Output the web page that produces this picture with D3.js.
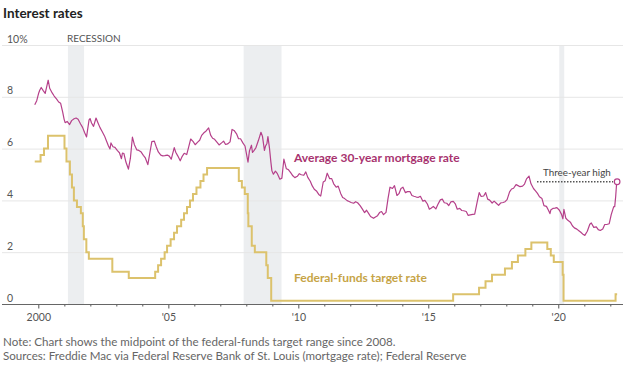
<!DOCTYPE html>
<html><head><meta charset="utf-8">
<script src="https://cdn.jsdelivr.net/npm/d3@7"></script>
<style>
body{margin:0;background:#fff;}
svg{display:block;font-family:Lato,"Noto Sans",sans-serif;}
</style></head><body>
<svg id="chart" width="635" height="366"></svg>
<script>
// ---------- DATA ----------
const yTicks = [0, 2, 4, 6, 8, 10];
const yTickLabels = ["0", "2", "4", "6", "8", "10%"];
const xMajorYears = [2000, 2005, 2010, 2015, 2020];
const xMajorLabels = ["2000", "'05", "'10", "'15", "'20"];

const recessions = [
  ["2001-02-20", "2001-10-05"],
  ["2007-11-25", "2009-05-10"],
  ["2020-01-15", "2020-03-25"]
];

const mortgage = [
["1999-11-12",7.69],["1999-12-10",7.85],["2000-01-07",8.15],["2000-01-21",8.25],["2000-02-11",8.36],
["2000-03-10",8.24],["2000-04-07",8.13],["2000-05-19",8.64],["2000-06-09",8.33],["2000-07-14",8.15],
["2000-08-11",8.03],["2000-09-15",7.91],["2000-10-13",7.80],["2000-11-10",7.75],["2000-12-08",7.42],
["2000-12-29",7.13],["2001-01-12",7.00],["2001-02-09",7.05],["2001-03-16",6.93],["2001-04-13",7.08],
["2001-05-18",7.15],["2001-06-15",7.18],["2001-07-13",7.13],["2001-08-17",6.95],["2001-09-14",6.82],
["2001-10-12",6.62],["2001-11-09",6.45],["2001-12-14",7.11],["2001-12-28",7.16],["2002-01-18",6.99],
["2002-02-15",6.86],["2002-03-22",7.18],["2002-04-19",6.99],["2002-05-17",6.81],["2002-06-14",6.67],
["2002-07-19",6.49],["2002-08-16",6.29],["2002-09-13",6.10],["2002-10-04",5.99],["2002-10-18",6.22],
["2002-11-15",6.07],["2002-12-13",6.05],["2003-01-17",5.92],["2003-02-14",5.84],["2003-03-14",5.61],
["2003-03-28",5.83],["2003-04-18",5.81],["2003-05-16",5.48],["2003-06-20",5.21],["2003-07-18",5.63],
["2003-08-15",6.44],["2003-09-12",6.15],["2003-10-17",5.95],["2003-11-14",5.93],["2003-12-12",5.88],
["2004-01-16",5.74],["2004-02-13",5.64],["2004-03-19",5.38],["2004-04-16",5.83],["2004-05-14",6.27],
["2004-06-18",6.29],["2004-07-16",6.06],["2004-08-13",5.87],["2004-09-17",5.75],["2004-10-15",5.72],
["2004-11-12",5.73],["2004-12-17",5.75],["2005-01-14",5.71],["2005-02-11",5.59],["2005-03-25",6.04],
["2005-04-15",5.86],["2005-05-13",5.72],["2005-06-17",5.53],["2005-07-15",5.70],["2005-08-12",5.82],
["2005-09-16",5.77],["2005-10-14",6.07],["2005-11-11",6.37],["2005-12-16",6.27],["2006-01-13",6.15],
["2006-02-17",6.25],["2006-03-17",6.32],["2006-04-14",6.51],["2006-05-12",6.60],["2006-06-16",6.68],
["2006-07-21",6.80],["2006-08-18",6.52],["2006-09-15",6.40],["2006-10-13",6.36],["2006-11-17",6.24],
["2006-12-15",6.14],["2007-01-19",6.22],["2007-02-16",6.29],["2007-03-16",6.16],["2007-04-13",6.18],
["2007-05-18",6.26],["2007-06-15",6.74],["2007-07-13",6.70],["2007-08-17",6.57],["2007-09-14",6.38],
["2007-10-12",6.38],["2007-11-16",6.21],["2007-12-14",6.10],["2008-01-25",5.48],["2008-02-15",5.92],
["2008-03-14",6.13],["2008-03-28",5.85],["2008-04-18",5.92],["2008-05-16",6.04],["2008-06-20",6.32],
["2008-07-25",6.63],["2008-08-15",6.48],["2008-09-12",5.93],["2008-09-26",6.09],["2008-10-17",6.20],
["2008-10-31",6.46],["2008-11-21",6.04],["2008-12-12",5.47],["2008-12-26",5.14],["2009-01-16",5.01],
["2009-02-13",5.13],["2009-03-13",5.03],["2009-04-17",4.82],["2009-05-15",4.86],["2009-06-12",5.59],
["2009-07-17",5.22],["2009-08-14",5.19],["2009-09-18",5.06],["2009-10-16",4.95],["2009-11-13",4.88],
["2009-12-18",4.93],["2010-01-15",5.03],["2010-02-12",4.99],["2010-03-19",4.97],["2010-04-16",5.10],
["2010-05-14",4.89],["2010-06-18",4.74],["2010-07-16",4.56],["2010-08-13",4.43],["2010-09-17",4.35],
["2010-10-15",4.23],["2010-11-12",4.17],["2010-12-17",4.71],["2011-01-14",4.76],["2011-02-11",5.05],
["2011-03-18",4.84],["2011-04-15",4.84],["2011-05-13",4.64],["2011-06-17",4.51],["2011-07-15",4.55],
["2011-08-19",4.27],["2011-09-16",4.11],["2011-10-14",4.07],["2011-11-18",3.99],["2011-12-16",3.96],
["2012-01-13",3.92],["2012-02-17",3.89],["2012-03-16",3.95],["2012-04-13",3.91],["2012-05-18",3.80],
["2012-06-15",3.68],["2012-07-20",3.53],["2012-08-17",3.62],["2012-09-14",3.50],["2012-10-12",3.38],
["2012-11-23",3.31],["2012-12-14",3.35],["2013-01-18",3.41],["2013-02-15",3.53],["2013-03-15",3.57],
["2013-04-12",3.45],["2013-05-17",3.54],["2013-06-14",4.07],["2013-07-12",4.51],["2013-08-16",4.46],
["2013-09-13",4.57],["2013-10-18",4.19],["2013-11-15",4.26],["2013-12-13",4.46],["2014-01-10",4.51],
["2014-02-14",4.30],["2014-03-14",4.34],["2014-04-18",4.34],["2014-05-16",4.19],["2014-06-13",4.16],
["2014-07-18",4.13],["2014-08-15",4.12],["2014-09-12",4.16],["2014-10-17",3.97],["2014-11-14",4.00],
["2014-12-19",3.86],["2015-01-16",3.66],["2015-02-13",3.71],["2015-03-13",3.77],["2015-04-17",3.67],
["2015-05-15",3.84],["2015-06-19",4.02],["2015-07-17",4.05],["2015-08-14",3.91],["2015-09-18",3.89],
["2015-10-16",3.80],["2015-11-13",3.94],["2015-12-18",3.96],["2016-01-15",3.87],["2016-02-12",3.66],
["2016-03-18",3.69],["2016-04-15",3.61],["2016-05-13",3.60],["2016-06-17",3.57],["2016-07-15",3.42],
["2016-08-12",3.44],["2016-09-16",3.46],["2016-10-14",3.47],["2016-11-18",3.94],["2016-12-16",4.30],
["2017-01-13",4.15],["2017-02-17",4.17],["2017-03-17",4.30],["2017-04-14",4.05],["2017-05-12",4.01],
["2017-06-16",3.90],["2017-07-14",3.97],["2017-08-18",3.88],["2017-09-15",3.81],["2017-10-13",3.90],
["2017-11-17",3.92],["2017-12-15",3.95],["2018-01-12",4.03],["2018-02-16",4.33],["2018-03-16",4.44],
["2018-04-13",4.47],["2018-05-18",4.61],["2018-06-15",4.57],["2018-07-13",4.53],["2018-08-17",4.55],
["2018-09-14",4.63],["2018-10-12",4.83],["2018-11-16",4.94],["2018-12-14",4.64],["2019-01-18",4.46],
["2019-02-15",4.37],["2019-03-15",4.27],["2019-04-12",4.14],["2019-05-17",4.07],["2019-06-14",3.80],
["2019-07-19",3.77],["2019-08-16",3.62],["2019-09-06",3.49],["2019-09-20",3.64],["2019-10-18",3.69],
["2019-11-15",3.70],["2019-12-13",3.72],["2020-01-17",3.62],["2020-02-14",3.47],["2020-03-06",3.29],
["2020-03-20",3.65],["2020-04-17",3.31],["2020-05-15",3.23],["2020-06-19",3.16],["2020-07-17",3.02],
["2020-08-14",2.94],["2020-09-18",2.89],["2020-10-16",2.83],["2020-11-13",2.77],["2020-12-18",2.68],
["2021-01-08",2.65],["2021-02-12",2.81],["2021-03-19",3.08],["2021-04-09",3.13],["2021-05-14",2.96],
["2021-06-18",2.98],["2021-07-16",2.87],["2021-08-13",2.84],["2021-09-17",2.90],["2021-10-15",3.07],
["2021-11-12",3.07],["2021-12-17",3.10],["2022-01-14",3.45],["2022-02-18",3.76],["2022-03-04",3.76],
["2022-03-18",4.16],["2022-03-31",4.67],["2022-04-07",4.72]
];

const fedFunds = [
["1999-11-12",5.50],["2000-02-02",5.75],["2000-03-21",6.00],["2000-05-16",6.50],["2001-01-03",6.00],
["2001-01-31",5.50],["2001-03-20",5.00],["2001-04-18",4.50],["2001-05-15",4.00],["2001-06-27",3.75],
["2001-08-21",3.50],["2001-09-17",3.00],["2001-10-02",2.50],["2001-11-06",2.00],["2001-12-11",1.75],
["2002-11-06",1.25],["2003-06-25",1.00],["2004-06-30",1.25],["2004-08-10",1.50],["2004-09-21",1.75],
["2004-11-10",2.00],["2004-12-14",2.25],["2005-02-02",2.50],["2005-03-22",2.75],["2005-05-03",3.00],
["2005-06-30",3.25],["2005-08-09",3.50],["2005-09-20",3.75],["2005-11-01",4.00],["2005-12-13",4.25],
["2006-01-31",4.50],["2006-03-28",4.75],["2006-05-10",5.00],["2006-06-29",5.25],["2007-09-18",4.75],
["2007-10-31",4.50],["2007-12-11",4.25],["2008-01-22",3.50],["2008-01-30",3.00],["2008-03-18",2.25],
["2008-04-30",2.00],["2008-10-08",1.50],["2008-10-29",1.00],["2008-12-16",0.125],["2015-12-16",0.375],
["2016-12-14",0.625],["2017-03-15",0.875],["2017-06-14",1.125],["2017-12-13",1.375],["2018-03-21",1.625],
["2018-06-13",1.875],["2018-09-26",2.125],["2018-12-19",2.375],["2019-07-31",2.125],["2019-09-18",1.875],
["2019-10-30",1.625],["2020-03-03",1.125],["2020-03-15",0.125],["2022-03-16",0.375],["2022-04-07",0.375]
];

// ---------- CHART ----------
const parse = d3.timeParse("%Y-%m-%d");
const svg = d3.select("#chart");

const x = d3.scaleTime()
  .domain([new Date(2000,0,1), new Date(2022,0,1)])
  .range([38.3, 610.3]);
const y = d3.scaleLinear().domain([0, 10]).range([304, 45]);

const colMort = "#b5408a", colMortText = "#a8336f";
const colFed = "#dcc26c", colFedText = "#c6a446";

// title
svg.append("text").attr("x", 3).attr("y", 18)
  .attr("font-size", 13.5).attr("font-weight", 700).attr("fill", "#222")
  .text("Interest rates");

// recession shading
svg.append("g").selectAll("rect").data(recessions).join("rect")
  .attr("x", d => x(parse(d[0])))
  .attr("width", d => x(parse(d[1])) - x(parse(d[0])))
  .attr("y", y(10)).attr("height", y(0) - y(10))
  .attr("fill", "#eceef0");

svg.append("text").attr("x", 67).attr("y", 42)
  .attr("font-size", 10).attr("fill", "#555").text("RECESSION");

// gridlines + y labels
const grid = svg.append("g");
grid.selectAll("line").data(yTicks.filter(d => d > 0)).join("line")
  .attr("x1", 2).attr("x2", 623)
  .attr("y1", d => y(d) + 0.5).attr("y2", d => y(d) + 0.5)
  .attr("stroke", "#e6e6e6").attr("stroke-width", 1);
grid.selectAll("text").data(yTicks).join("text")
  .attr("x", 7).attr("y", d => y(d) - 2.5)
  .attr("font-size", 10.5).attr("fill", "#555")
  .text((d, i) => yTickLabels[i]);

// lines
const mData = mortgage.map(d => ({date: parse(d[0]), v: d[1]}));
const fData = fedFunds.map(d => ({date: parse(d[0]), v: d[1]}));

svg.append("path").datum(fData)
  .attr("fill", "none").attr("stroke", colFed).attr("stroke-width", 2)
  .attr("d", d3.line().x(d => x(d.date)).y(d => y(d.v)).curve(d3.curveStepAfter));

svg.append("path").datum(mData)
  .attr("fill", "none").attr("stroke", colMort).attr("stroke-width", 1.2)
  .attr("stroke-linejoin", "round")
  .attr("d", d3.line().x(d => x(d.date)).y(d => y(d.v)));

// x axis
const gx = svg.append("g").attr("transform", `translate(0,${y(0)})`)
  .call(d3.axisBottom(x).ticks(d3.timeYear.every(1)).tickSize(2.5)
    .tickFormat(d => { const i = xMajorYears.indexOf(d.getFullYear()); return i >= 0 ? xMajorLabels[i] : ""; }));
gx.select(".domain").remove();
gx.selectAll(".tick line").attr("stroke", "#555")
  .attr("y2", d => xMajorYears.includes(d.getFullYear()) ? 4.5 : 2.5);
gx.selectAll(".tick text").attr("y", 17).attr("dy", null)
  .attr("font-family", "Lato,'Noto Sans',sans-serif")
  .attr("font-size", 10.5).attr("fill", "#555");
svg.append("line").attr("x1", 2).attr("x2", 623)
  .attr("y1", y(0) + 0.5).attr("y2", y(0) + 0.5)
  .attr("stroke", "#666").attr("stroke-width", 1);

// series labels
svg.append("text").attr("x", 294).attr("y", 162)
  .attr("font-size", 12).attr("font-weight", 700).attr("fill", colMortText)
  .text("Average 30-year mortgage rate");
svg.append("text").attr("x", 294).attr("y", 282)
  .attr("font-size", 12).attr("font-weight", 700).attr("fill", colFedText)
  .text("Federal-funds target rate");

// annotation
const last = mData[mData.length - 1];
svg.append("line")
  .attr("x1", 537).attr("x2", x(last.date) - 4)
  .attr("y1", y(last.v)).attr("y2", y(last.v))
  .attr("stroke", "#555").attr("stroke-width", 1.5).attr("stroke-dasharray", "1.5,1.5");
svg.append("text").attr("x", 543).attr("y", 176)
  .attr("font-size", 9.8).attr("fill", "#444").text("Three-year high");
svg.append("circle").attr("cx", x(last.date)).attr("cy", y(last.v)).attr("r", 2.8)
  .attr("fill", "#fff").attr("stroke", colMort).attr("stroke-width", 1.2);

// notes
svg.append("text").attr("x", 3).attr("y", 346)
  .attr("font-size", 11.6).attr("fill", "#666")
  .text("Note: Chart shows the midpoint of the federal-funds target range since 2008.");
svg.append("text").attr("x", 3).attr("y", 360)
  .attr("font-size", 11.6).attr("fill", "#666")
  .text("Sources: Freddie Mac via Federal Reserve Bank of St. Louis (mortgage rate); Federal Reserve");
</script>
</body></html>
